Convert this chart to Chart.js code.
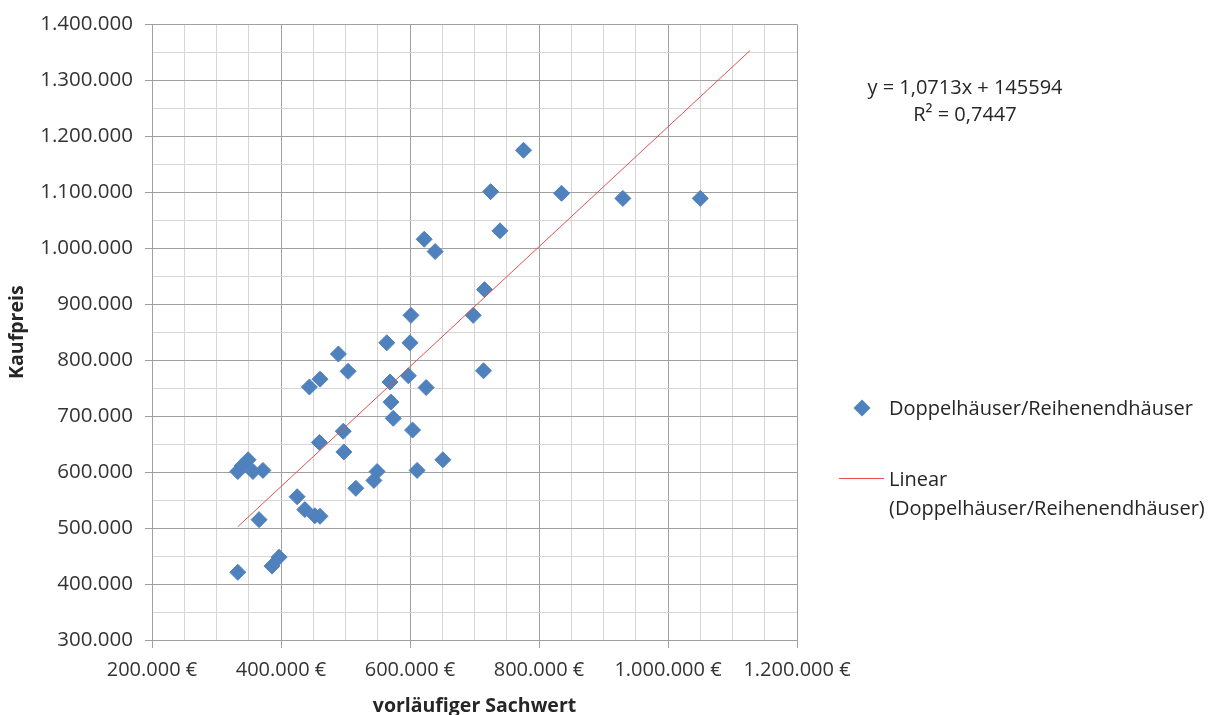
<!DOCTYPE html>
<html lang="de">
<head>
<meta charset="utf-8">
<title>Kaufpreis / vorläufiger Sachwert</title>
<script src="https://cdn.jsdelivr.net/npm/chart.js@4.4.1/dist/chart.umd.min.js"></script>
<style>
  html, body { margin: 0; padding: 0; background: #ffffff; }
  #wrap { position: relative; width: 1213px; height: 715px; overflow: hidden; font-family: "Open Sans", sans-serif; color: #262626; }
  #chart { position: absolute; left: 0; top: 0; }
  .txt { position: absolute; font-size: 20px; line-height: 24px; white-space: nowrap; }
  #eq { left: 864px; width: 202px; top: 73px; text-align: center; line-height: 27px; }
  #legDiamond { position: absolute; left: 856px; top: 402px; width: 12px; height: 12px; background: #4f81bd; transform: rotate(45deg); }
  #legLine { position: absolute; left: 839px; top: 478px; width: 45px; height: 1px; background: #dc5350; }
  #legScatter { left: 889px; top: 396px; }
  #legTrend { left: 889px; top: 464px; line-height: 29px; }
</style>
</head>
<body>
<div id="wrap">
  <canvas id="chart" width="1213" height="715"></canvas>
  <div id="eq" class="txt">y = 1,0713x + 145594<br>R² = 0,7447</div>
  <div id="legDiamond"></div>
  <div id="legScatter" class="txt">Doppelhäuser/Reihenendhäuser</div>
  <div id="legLine"></div>
  <div id="legTrend" class="txt">Linear<br>(Doppelhäuser/Reihenendhäuser)</div>
</div>
<script>
// vorläufiger Sachwert (EUR) per sale
const sachwert = [
  776000, 725000, 835000, 930000, 1050000, 739500, 622000, 639000, 715500, 698000,
  601500, 489000, 564000, 600000, 714000, 504000, 460500, 444000, 569000, 597500,
  625000, 570500, 574000, 604000, 496500, 459500, 497500, 651000, 611000, 549000,
  544000, 516000, 425000, 437000, 452500, 460500, 366000, 333000, 339500, 349000,
  356500, 372000, 333000, 386000, 397000
];
// Kaufpreis (EUR) per sale, same order
const kaufpreis = [
  1175000, 1101000, 1098000, 1089000, 1089000, 1031000, 1016000, 994000, 926000, 880000,
  880000, 811000, 831000, 831000, 781000, 780000, 766000, 752000, 761000, 772000,
  751000, 725000, 696000, 675000, 673000, 653000, 636000, 622000, 603000, 601000,
  585000, 571000, 556000, 533000, 522000, 521000, 515000, 601000, 611000, 622000,
  601000, 603000, 421000, 432000, 448000
];
// linear trend: y = 1,0713x + 145594, drawn over this x range
const trendSlope = 1.0713;
const trendIntercept = 145594;
const trendRange = [333000, 1127000];
// axis ranges and steps
const xAxisRange = [200000, 1200000];
const yAxisRange = [300000, 1400000];
const xLabelStep = 200000;
const yLabelStep = 100000;
const minorStep = 50000;

const points = sachwert.map((x, i) => ({ x: x, y: kaufpreis[i] }));
const trendPoints = trendRange.map(x => ({ x: x, y: trendSlope * x + trendIntercept }));

const fmt = n => String(Math.round(n)).replace(/\B(?=(\d{3})+(?!\d))/g, '.');
const MAJOR = '#a0a0a0';
const MINOR = '#d6d6d6';
const FONT = '"Open Sans", sans-serif';

new Chart(document.getElementById('chart'), {
  type: 'scatter',
  data: {
    datasets: [
      {
        label: 'Doppelhäuser/Reihenendhäuser',
        data: points,
        pointStyle: 'rectRot',
        pointRadius: 8,
        pointHoverRadius: 8,
        backgroundColor: '#4f81bd',
        borderColor: '#4f81bd',
        borderWidth: 1,
        order: 1
      },
      {
        label: 'Linear (Doppelhäuser/Reihenendhäuser)',
        type: 'line',
        data: trendPoints,
        showLine: true,
        borderColor: '#dc5350',
        borderWidth: 1,
        pointRadius: 0,
        fill: false,
        order: 0
      }
    ]
  },
  options: {
    responsive: false,
    animation: false,
    events: [],
    layout: { padding: { left: 0, top: 22, right: 416, bottom: 0 } },
    plugins: { legend: { display: false }, tooltip: { enabled: false } },
    scales: {
      x: {
        type: 'linear',
        min: xAxisRange[0],
        max: xAxisRange[1],
        afterFit: s => { s.height = 75; },
        border: { color: MAJOR, width: 1 },
        grid: {
          color: c => (c.tick && c.tick.value % xLabelStep === 0) ? MAJOR : MINOR,
          tickColor: c => (c.tick && c.tick.value % xLabelStep === 0) ? MAJOR : 'rgba(0,0,0,0)',
          tickLength: 8
        },
        ticks: {
          stepSize: minorStep,
          autoSkip: false,
          maxRotation: 0,
          padding: 10,
          color: '#333333',
          font: { family: FONT, size: 20 },
          callback: v => (v % xLabelStep === 0) ? fmt(v) + ' €' : ''
        },
        title: {
          display: true,
          text: 'vorläufiger Sachwert',
          color: '#262626',
          font: { family: FONT, size: 19.5, weight: 'bold' },
          padding: { top: 0, bottom: -3 }
        }
      },
      y: {
        type: 'linear',
        min: yAxisRange[0],
        max: yAxisRange[1],
        afterFit: s => { s.width = 152; },
        border: { color: MAJOR, width: 1 },
        grid: {
          color: c => (c.tick && c.tick.value % yLabelStep === 0) ? MAJOR : MINOR,
          tickColor: c => (c.tick && c.tick.value % yLabelStep === 0) ? MAJOR : 'rgba(0,0,0,0)',
          tickLength: 7
        },
        ticks: {
          stepSize: minorStep,
          autoSkip: false,
          padding: 12,
          color: '#333333',
          font: { family: FONT, size: 20.5 },
          callback: v => (v % yLabelStep === 0) ? fmt(v) : ''
        },
        title: {
          display: true,
          text: 'Kaufpreis',
          color: '#262626',
          font: { family: FONT, size: 19.5, weight: 'bold' },
          padding: { top: 6, bottom: 0 }
        }
      }
    }
  }
});
</script>
</body>
</html>
